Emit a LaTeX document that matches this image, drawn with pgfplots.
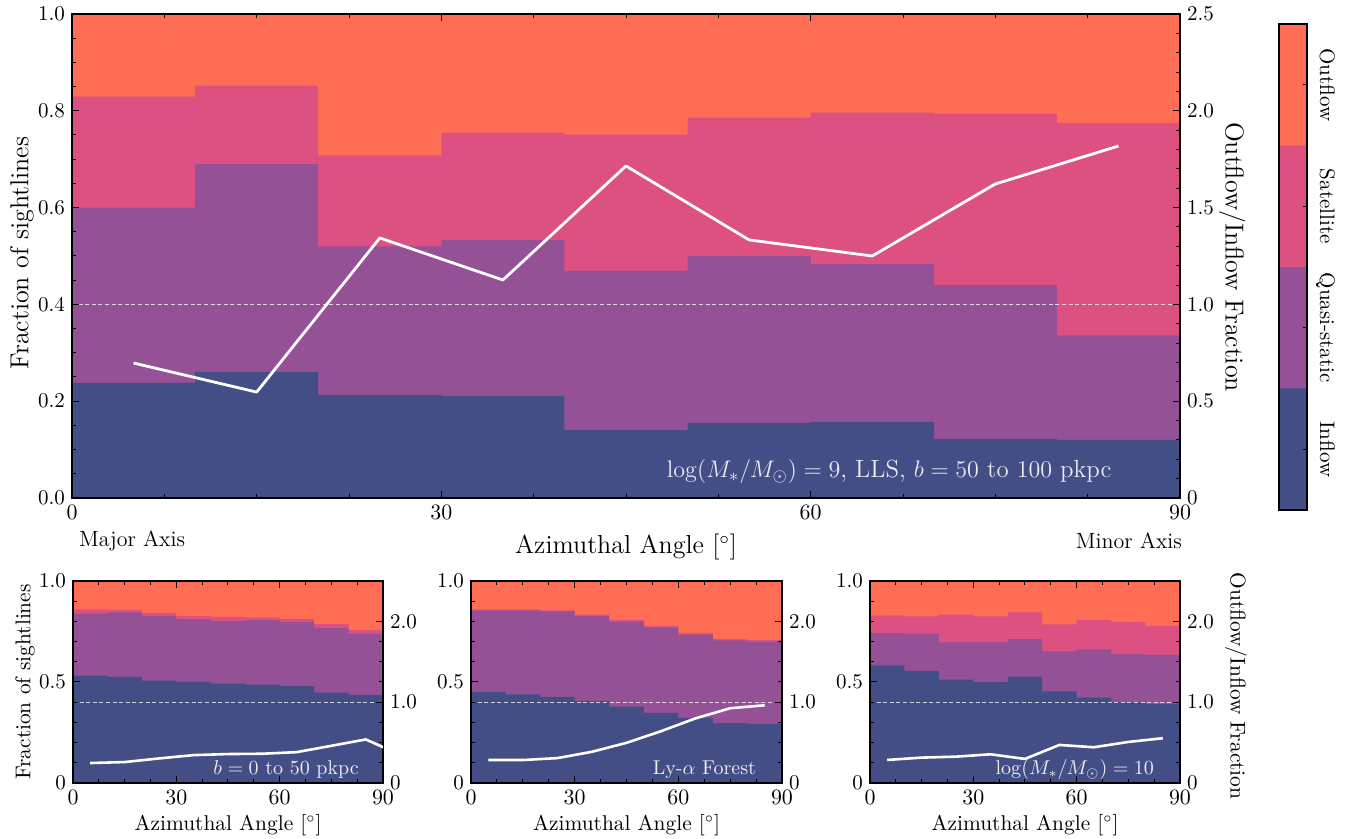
\documentclass[border=0pt]{standalone}
\usepackage{pgfplots}
\usepackage{pgfplotstable}
\pgfplotsset{compat=1.18}
\definecolor{outc}{HTML}{FF6E54}
\definecolor{satc}{HTML}{DD5182}
\definecolor{qsc}{HTML}{955196}
\definecolor{inc}{HTML}{444E86}

\pgfplotstableread{
x in qs sat
0 0.238 0.600 0.829
10 0.260 0.690 0.852
20 0.213 0.520 0.708
30 0.211 0.533 0.755
40 0.140 0.470 0.751
50 0.155 0.500 0.786
60 0.157 0.483 0.796
70 0.122 0.440 0.794
80 0.120 0.336 0.775
90 0.120 0.336 0.775
}\mainfrac
\pgfplotstableread{
x r
5 0.697
15 0.547
25 1.343
35 1.126
45 1.715
55 1.333
65 1.250
75 1.622
85 1.818
}\mainratio

\pgfplotstableread{
x in qs sat
0 0.531 0.839 0.860
10 0.525 0.844 0.857
20 0.507 0.826 0.842
30 0.500 0.811 0.827
40 0.492 0.803 0.822
50 0.487 0.806 0.820
60 0.480 0.796 0.811
70 0.447 0.768 0.786
80 0.436 0.740 0.757
90 0.436 0.740 0.757
}\afrac
\pgfplotstableread{
x r
5 0.247
15 0.259
25 0.304
35 0.345
45 0.358
55 0.362
65 0.382
75 0.460
85 0.539
95 0.349
}\aratio

\pgfplotstableread{
x in qs sat
0 0.451 0.855 0.860
10 0.439 0.855 0.860
20 0.426 0.849 0.854
30 0.405 0.827 0.834
40 0.378 0.799 0.806
50 0.347 0.770 0.778
60 0.322 0.735 0.743
70 0.296 0.706 0.714
80 0.293 0.699 0.707
90 0.293 0.699 0.707
}\bfrac
\pgfplotstableread{
x r
5 0.284
15 0.284
25 0.308
35 0.386
45 0.497
55 0.641
65 0.800
75 0.925
85 0.962
}\bratio

\pgfplotstableread{
x in qs sat
0 0.582 0.742 0.830
10 0.555 0.740 0.825
20 0.512 0.696 0.833
30 0.499 0.696 0.825
40 0.527 0.714 0.845
50 0.453 0.651 0.785
60 0.423 0.661 0.808
70 0.400 0.638 0.798
80 0.390 0.636 0.778
90 0.390 0.636 0.778
}\cfrac
\pgfplotstableread{
x r
5 0.285
15 0.314
25 0.326
35 0.355
45 0.298
55 0.471
65 0.442
75 0.508
85 0.554
}\cratio

\newcommand{\stackfill}[1]{%
  \addplot[const plot mark left, fill=outc, draw=none] coordinates {(0,1) (90,1)} \closedcycle;
  \addplot[const plot mark left, fill=satc, draw=none] table[x=x,y=sat]{#1} \closedcycle;
  \addplot[const plot mark left, fill=qsc, draw=none] table[x=x,y=qs]{#1} \closedcycle;
  \addplot[const plot mark left, fill=inc, draw=none] table[x=x,y=in]{#1} \closedcycle;
  \addplot[white, opacity=0.75, line width=0.5pt, dash pattern=on 2pt off 1.3pt] coordinates {(0,0.4) (90,0.4)};
}

\pgfplotsset{
  base/.style={scale only axis, anchor=south west, xmin=0, xmax=90, ymin=0,
    tick align=inside, major tick length=3.5pt, minor tick length=2pt,
    every tick/.style={black, line width=0.5pt},
    axis line style={line width=0.7pt},
    xtick={0,30,60,90}, minor x tick num=3,
    tick label style={font=\fontsize{10.5}{12}\selectfont}},
  fracax/.style={base, ymax=1, axis on top, ytick pos=left},
  ratioax/.style={base, ymax=2.5, xtick=\empty, ytick pos=right, yticklabel pos=right},
}

\begin{document}
\begin{tikzpicture}[x=1pt,y=1pt]
\useasboundingbox (0,0) rectangle (678.5,419.5);

% ---------- main panel ----------
\begin{axis}[fracax, at={(36pt,170.5pt)}, width=554pt, height=242pt,
  ytick={0,0.2,0.4,0.6,0.8,1.0}, yticklabels={0.0,0.2,0.4,0.6,0.8,1.0}, minor y tick num=3]
  \stackfill{\mainfrac}
\end{axis}
\begin{axis}[ratioax, at={(36pt,170.5pt)}, width=554pt, height=242pt,
  ytick={0,0.5,1.0,1.5,2.0,2.5}, yticklabels={0,0.5,1.0,1.5,2.0,2.5}, minor y tick num=4]
  \addplot[white, line width=1.4pt, line join=round] table[x=x,y=r]{\mainratio};
  \node[anchor=base east, text=white, opacity=0.9, font=\fontsize{12.4}{14}\selectfont]
    at (axis cs:85,0.105) {$\log(M_*/M_\odot) = 9$, LLS, $b = 50$ to $100$ pkpc};
\end{axis}

% ---------- colorbar ----------
\begin{axis}[scale only axis, anchor=south west, at={(639.5pt,164.5pt)}, width=14pt, height=243pt,
  xmin=0, xmax=1, ymin=0, ymax=4, xtick=\empty, ytick={0.5,1.5,2.5,3.5}, yticklabels={},
  ytick pos=right, tick align=inside, major tick length=2pt,
  every tick/.style={black, line width=0.5pt}, axis line style={line width=0.7pt}, axis on top]
  \addplot[const plot mark left, fill=outc, draw=none] coordinates {(0,4) (1,4)} \closedcycle;
  \addplot[const plot mark left, fill=satc, draw=none] coordinates {(0,3) (1,3)} \closedcycle;
  \addplot[const plot mark left, fill=qsc, draw=none] coordinates {(0,2) (1,2)} \closedcycle;
  \addplot[const plot mark left, fill=inc, draw=none] coordinates {(0,1) (1,1)} \closedcycle;
\end{axis}
\begin{scope}[font=\fontsize{10.5}{12}\selectfont]
\node[rotate=-90, anchor=base] at (660,377.1) {Outflow};
\node[rotate=-90, anchor=base] at (660,316.4) {Satellite};
\node[rotate=-90, anchor=base] at (660,255.6) {Quasi-static};
\node[rotate=-90, anchor=base] at (660,194.9) {Inflow};
\end{scope}

% main labels
\node[rotate=90, font=\fontsize{13}{15}\selectfont] at (11,293) {Fraction of sightlines};
\node[rotate=-90, font=\fontsize{13}{15}\selectfont] at (616,291) {Outflow/Inflow Fraction};
\node[font=\fontsize{13}{15}\selectfont] at (313,146) {Azimuthal Angle [$^\circ$]};
\node[anchor=west, font=\fontsize{11}{13}\selectfont] at (36,149) {Major Axis};
\node[anchor=east, font=\fontsize{11}{13}\selectfont] at (594.5,149) {Minor Axis};

% ---------- bottom panel 1 ----------
\begin{axis}[fracax, at={(36.5pt,28pt)}, width=155pt, height=101pt,
  ytick={0,0.5,1.0}, yticklabels={0,0.5,1.0}, minor y tick num=4]
  \stackfill{\afrac}
\end{axis}
\begin{axis}[ratioax, at={(36.5pt,28pt)}, width=155pt, height=101pt,
  ytick={0,1,2}, yticklabels={0,1.0,2.0}, minor y tick num=3]
  \addplot[white, line width=1.3pt, line join=round] table[x=x,y=r]{\aratio};
  \node[anchor=base east, text=white, opacity=0.9, font=\fontsize{10}{12}\selectfont]
    at (axis cs:85,0.11) {$b = 0$ to $50$ pkpc};
\end{axis}

% ---------- bottom panel 2 ----------
\begin{axis}[fracax, at={(235.5pt,28pt)}, width=155.5pt, height=101pt,
  ytick={0,0.5,1.0}, yticklabels={0,0.5,1.0}, minor y tick num=4]
  \stackfill{\bfrac}
\end{axis}
\begin{axis}[ratioax, at={(235.5pt,28pt)}, width=155.5pt, height=101pt,
  ytick={0,1,2}, yticklabels={0,1.0,2.0}, minor y tick num=3]
  \addplot[white, line width=1.3pt, line join=round] table[x=x,y=r]{\bratio};
  \node[anchor=base east, text=white, opacity=0.9, font=\fontsize{10}{12}\selectfont]
    at (axis cs:84.5,0.11) {Ly-$\alpha$ Forest};
\end{axis}

% ---------- bottom panel 3 ----------
\begin{axis}[fracax, at={(435pt,28pt)}, width=155pt, height=101pt,
  ytick={0,0.5,1.0}, yticklabels={0,0.5,1.0}, minor y tick num=4]
  \stackfill{\cfrac}
\end{axis}
\begin{axis}[ratioax, at={(435pt,28pt)}, width=155pt, height=101pt,
  ytick={0,1,2}, yticklabels={0,1.0,2.0}, minor y tick num=3]
  \addplot[white, line width=1.3pt, line join=round] table[x=x,y=r]{\cratio};
  \node[anchor=base east, text=white, opacity=0.9, font=\fontsize{10}{12}\selectfont]
    at (axis cs:84.5,0.11) {$\log(M_*/M_\odot) = 10$};
\end{axis}

% bottom labels
\node[rotate=90, font=\fontsize{10.7}{12}\selectfont] at (12.5,78.5) {Fraction of sightlines};
\node[rotate=-90, font=\fontsize{10.7}{12}\selectfont] at (618,76.5) {Outflow/Inflow Fraction};
\node[font=\fontsize{10.7}{12}\selectfont] at (114,7) {Azimuthal Angle [$^\circ$]};
\node[font=\fontsize{10.7}{12}\selectfont] at (313.25,7) {Azimuthal Angle [$^\circ$]};
\node[font=\fontsize{10.7}{12}\selectfont] at (512.5,7) {Azimuthal Angle [$^\circ$]};
\end{tikzpicture}
\end{document}
